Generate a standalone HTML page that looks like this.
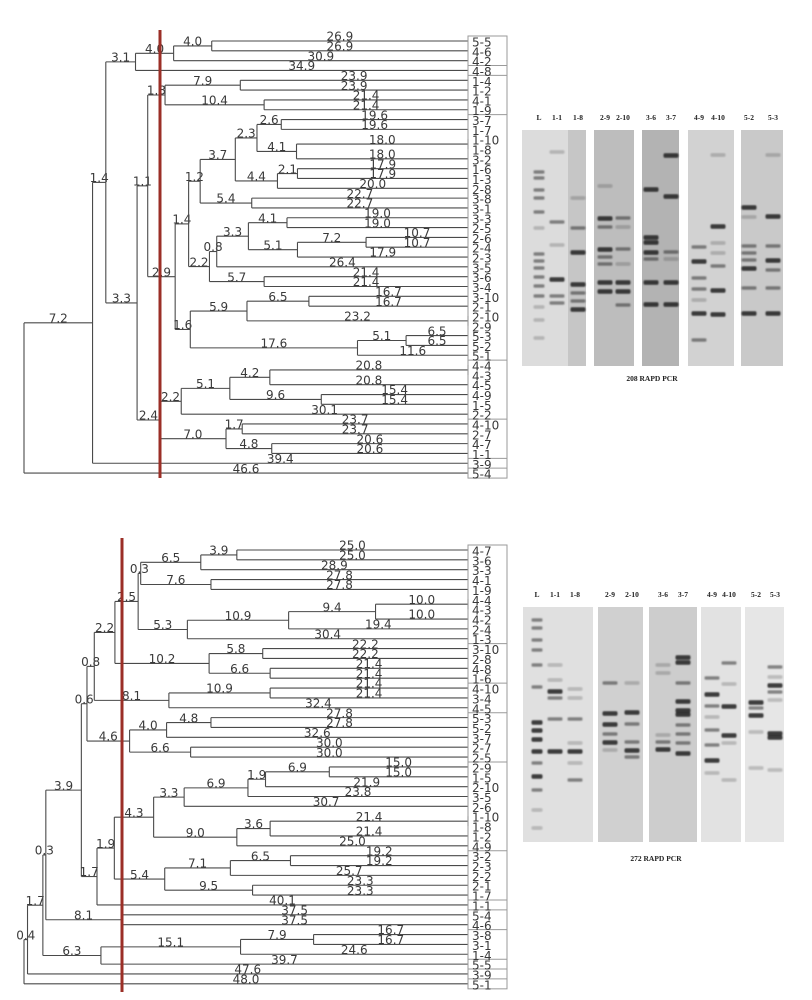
<!DOCTYPE html>
<html><head><meta charset="utf-8">
<style>
html,body{margin:0;padding:0;background:#fff;}
svg{display:block;}
.bl{font-family:"DejaVu Sans","Liberation Sans",sans-serif;font-size:12px;fill:#3a3a3a;}
.ll{font-family:"DejaVu Sans","Liberation Sans",sans-serif;font-size:12px;fill:#3a3a3a;}
.gl{font-family:"Liberation Serif",serif;font-size:7.5px;font-weight:bold;fill:#222;}
</style></head>
<body>
<svg id="fig" width="812" height="1000" viewBox="0 0 812 1000">
<defs><filter id="soft" x="-20%" y="-100%" width="140%" height="300%"><feGaussianBlur stdDeviation="0.8"/></filter></defs>
</svg>
<script>
// ---- Tree data: [node, childA, branchA, childB, branchB] ----
const topClades = [
["root","A",7.2,"5-4",46.6],["A","B",1.4,"3-9",39.4],["B","C",3.1,"D",3.3],
["C","E",4.0,"4-8",34.9],["E","F",4.0,"4-2",30.9],["F","5-5",26.9,"4-6",26.9],
["D","G",1.1,"H",2.4],["G","I",1.8,"J",2.9],["I","K",7.9,"L",10.4],
["K","1-4",23.9,"1-2",23.9],["L","4-1",21.4,"1-9",21.4],["J","M",1.4,"N",1.6],
["M","O",1.2,"P",2.2],["O","Q",3.7,"R",5.4],["Q","S",2.3,"T",4.4],["S","U",2.6,"V",4.1],
["U","3-7",19.6,"1-7",19.6],["V","X",18.0,"3-2",18.0],["X","1-10",0,"1-8",0],
["T","W",2.1,"2-8",20.0],["W","1-6",17.9,"1-3",17.9],["R","3-8",22.7,"3-1",22.7],
["P","Y",0.8,"Z",5.7],["Y","AA",3.3,"3-5",26.4],["AA","AB",4.1,"AC",5.1],
["AB","3-3",19.0,"2-5",19.0],["AC","AD",7.2,"2-3",17.9],["AD","2-6",10.7,"2-4",10.7],
["Z","3-6",21.4,"3-4",21.4],["N","AE",5.9,"AF",17.6],["AE","AG",6.5,"PP",23.2],
["AG","3-10",16.7,"2-1",16.7],["PP","2-10",0,"2-9",0],["AF","AH",5.1,"5-1",11.6],
["AH","5-3",6.5,"5-2",6.5],["H","AI",2.2,"AJ",7.0],["AI","AK",5.1,"2-2",30.1],
["AK","AL",4.2,"AM",9.6],["AL","QQ",20.8,"4-5",20.8],["QQ","4-4",0,"4-3",0],
["AM","4-9",15.4,"1-5",15.4],["AJ","AN",1.7,"AO",4.8],["AN","4-10",23.7,"2-7",23.7],
["AO","4-7",20.6,"1-1",20.6]
];
const topSeparators = [2,3,7,32,38,42,43];

const botClades = [
["root","R1",0.4,"5-1",48.0],["R1","R2",1.7,"3-9",47.6],["R2","R3",0.3,"R4",6.3],
["R3","R7",3.9,"R8",8.1],["R7","R9",0.6,"R10",1.7],["R9","R23",0.8,"R24",4.6],
["R23","R28",2.2,"R29",8.1],["R28","R31",2.5,"R32",10.2],["R31","R35",0.3,"R36",5.3],
["R35","R37",6.5,"R38",7.6],["R37","R39",3.9,"3-3",28.9],["R39","4-7",25.0,"3-6",25.0],
["R38","4-1",27.8,"1-9",27.8],["R36","R40",10.9,"1-3",30.4],["R40","R41",9.4,"2-4",19.4],
["R41","P1",10.0,"4-2",10.0],["P1","4-4",0,"4-3",0],["R32","R33",5.8,"R34",6.6],
["R33","3-10",22.2,"2-8",22.2],["R34","4-8",21.4,"1-6",21.4],["R29","R30",10.9,"4-5",32.4],
["R30","4-10",21.4,"3-4",21.4],["R24","R25",4.0,"R26",6.6],["R25","R27",4.8,"3-7",32.6],
["R27","5-3",27.8,"5-2",27.8],["R26","2-7",30.0,"2-5",30.0],["R10","R11",1.9,"1-1",40.1],
["R11","R12",4.3,"R13",5.4],["R12","R14",3.3,"R15",9.0],["R14","R16",6.9,"2-6",30.7],
["R16","R17",1.9,"3-5",23.8],["R17","R18",6.9,"2-10",21.9],["R18","2-9",15.0,"1-5",15.0],
["R15","R19",3.6,"4-9",25.0],["R19","P2",21.4,"1-2",21.4],["P2","1-10",0,"1-8",0],
["R13","R20",7.1,"R21",9.5],["R20","R22",6.5,"2-2",25.7],["R22","3-2",19.2,"2-3",19.2],
["R21","2-1",23.3,"1-7",23.3],["R8","5-4",37.5,"4-6",37.5],["R4","R5",15.1,"5-5",39.7],
["R5","R6",7.9,"1-4",24.6],["R6","3-8",16.7,"3-1",16.7]
];
const botSeparators = [9,13,16,21,30,35,36,38,41,42,43];

// ---- Gel data: lane label, band y, intensity (d/m/f) ----
const gelTopLanes = ["L","1-1","1-8","2-9","2-10","3-6","3-7","4-9","4-10","5-2","5-3"];
const gelTopBands = [
"172m,178m,190m,198m,212m,228f,254m,261m,268m,277m,286m,296m,307f,320f,338f",
"152f,222m,245f,279d,296m,303m",
"198f,228m,252d,284d,293m,301m,309d",
"186f,218d,227m,249d,257m,264m,282d,291d",
"218m,227f,249m,264f,282d,291d,305m",
"189d,237d,242d,252d,259m,282d,304d",
"155d,196d,252m,259f,282d,304d",
"247m,261d,278m,289m,300f,313d,340m",
"155f,226d,243f,253f,266m,290d,314d",
"207d,217f,246m,253m,260m,268d,288m,313d",
"155f,216d,246m,260d,270m,288m,313d"
];
const gelBotLanes = ["L","1-1","1-8","2-9","2-10","3-6","3-7","4-9","4-10","5-2","5-3"];
const gelBotBands = [
"620m,628m,640m,650m,665m,687m,722d,730d,739d,751d,763m,776d,790m,810f,828f",
"665f,680f,691d,698m,719m,751d",
"689f,698f,719m,743f,751d,763f,780m",
"683m,713d,724d,734m,742d,750f",
"683f,712d,724m,742m,750d,757m",
"665f,673f,735f,742m,749d",
"657d,662d,683m,701d,710d,714d,725m,734m,743m,753d",
"678m,694d,706m,717f,730m,745m,760d,773f",
"663m,684f,706d,735d,743f,780f",
"702d,708m,715d,732f,768f",
"667m,677f,685d,692m,700f,733d,737d,770f"
];

const NS="http://www.w3.org/2000/svg";
const svg=document.getElementById('fig');
function mk(tag,attrs,parent){const e=document.createElementNS(NS,tag);for(const k in attrs)e.setAttribute(k,attrs[k]);(parent||svg).appendChild(e);return e;}

function drawTree(clades,cfg){
  const g=mk('g',{});
  
  
  const map={};clades.forEach(c=>map[c[0]]={kids:[[c[1],c[2]],[c[3],c[4]]]});
  const leaves=[];
  const H={};
  function height(n){if(!map[n]){H[n]=0;return 0;}let s=0;map[n].kids.forEach(k=>{s+=height(k[0])+k[1];});H[n]=s/map[n].kids.length;return H[n];}
  height('root');
  const Y={};
  function layout(n){if(!map[n]){Y[n]=cfg.y0+leaves.length*cfg.step;leaves.push(n);return;}map[n].kids.forEach(k=>layout(k[0]));const ks=map[n].kids;Y[n]=(Y[ks[0][0]]+Y[ks[ks.length-1][0]])/2;}
  layout('root');
  const sc=(cfg.xLeaf-cfg.xRoot)/H['root'];
  const X=n=>cfg.xLeaf-H[n]*sc;
  function draw(n){
    if(!map[n])return;
    const ks=map[n].kids;
    const v=mk('line',{x1:X(n),x2:X(n),y1:Y[ks[0][0]],y2:Y[ks[ks.length-1][0]],stroke:'#4a4a4a','stroke-width':1.1},g);
    
    
    ks.forEach(k=>{
      const c=k[0],len=k[1];
      if(len>0){
        const h=mk('line',{x1:X(n),x2:X(c),y1:Y[c],y2:Y[c],stroke:'#4a4a4a','stroke-width':1.1},g);
        
        
        const t=mk('text',{x:(X(n)+X(c))/2,y:Y[c]-0.3,'text-anchor':'middle',class:'bl'},g);
        
        
        t.textContent=len.toFixed(1);
      }
      draw(c);
    });
  }
  draw('root');
  const bt=Y[leaves[0]]-5,bb=Y[leaves[leaves.length-1]]+5;
  const box=mk('rect',{x:cfg.xLeaf,y:bt,width:cfg.boxW,height:bb-bt,fill:'none',stroke:'#9a9a9a','stroke-width':1},g);
  
  
  cfg.seps.forEach(i=>{
    const yy=(Y[leaves[i]]+Y[leaves[i+1]])/2;
    const s=mk('line',{x1:cfg.xLeaf,x2:cfg.xLeaf+cfg.boxW,y1:yy,y2:yy,stroke:'#9a9a9a','stroke-width':1},g);
    
    
  });
  leaves.forEach(l=>{
    const t=mk('text',{x:cfg.xLeaf+4,y:Y[l]+5.5,class:'ll'},g);
    
    
    t.textContent=l;
  });
  const r=mk('line',{x1:cfg.redX,x2:cfg.redX,y1:cfg.redY1,y2:cfg.redY2,stroke:'#9b2f27','stroke-width':3},g);
  
  
}

drawTree(topClades,{name:'dendrogram-208',y0:41,step:9.82,xRoot:24,xLeaf:468,boxW:39,seps:topSeparators,redX:160,redY1:30,redY2:478});
drawTree(botClades,{name:'dendrogram-272',y0:550,step:9.86,xRoot:24,xLeaf:468,boxW:39,seps:botSeparators,redX:122,redY1:538,redY2:992});

function drawGel(cfg,lanes,bands){
  const g=mk('g',{});
  
  
  cfg.panels.forEach((p,i)=>{
    const r=mk('rect',{x:p[0],y:cfg.y1,width:p[1]-p[0],height:cfg.y2-cfg.y1,fill:p[2]},g);
    
    
  });
  const bg=mk('g',{filter:'url(#soft)'},g);
  
  
  lanes.forEach((ln,i)=>{
    const x=cfg.laneX[i];
    const t=mk('text',{x:x,y:cfg.labelY,'text-anchor':'middle',class:'gl'},g);
    
    
    t.textContent=ln;
    bands[i].split(',').forEach(b=>{
      const y=parseFloat(b),k=b.slice(-1);
      const op=k==='d'?0.85:k==='m'?0.5:0.22;
      const w=ln==='L'?11:15;
      const r=mk('rect',{x:x-w/2,y:y-1.8,width:w,height:k==='d'?4.5:3.5,rx:1.5,fill:'#1e1e1e','fill-opacity':op},bg);
      
      
    });
  });
  const c=mk('text',{x:cfg.capX,y:cfg.capY,'text-anchor':'middle',class:'gl'},g);
  
  
  c.textContent=cfg.caption;
}
drawGel({name:'gel-208',y1:130,y2:366,labelY:120,capX:652,capY:381,caption:'208 RAPD PCR',
  panels:[[522,568,'#dcdcdc'],[568,586,'#c6c6c6'],[594,634,'#bdbdbd'],[642,679,'#b3b3b3'],[688,734,'#d2d2d2'],[741,783,'#c9c9c9']],
  laneX:[539,557,578,605,623,651,671,699,718,749,773]},gelTopLanes,gelTopBands);
drawGel({name:'gel-272',y1:607,y2:842,labelY:597,capX:656,capY:861,caption:'272 RAPD PCR',
  panels:[[523,593,'#e0e0e0'],[598,643,'#d0d0d0'],[649,697,'#cdcdcd'],[701,741,'#e2e2e2'],[745,784,'#e6e6e6']],
  laneX:[537,555,575,610,632,663,683,712,729,756,775]},gelBotLanes,gelBotBands);
</script>
</body></html>
